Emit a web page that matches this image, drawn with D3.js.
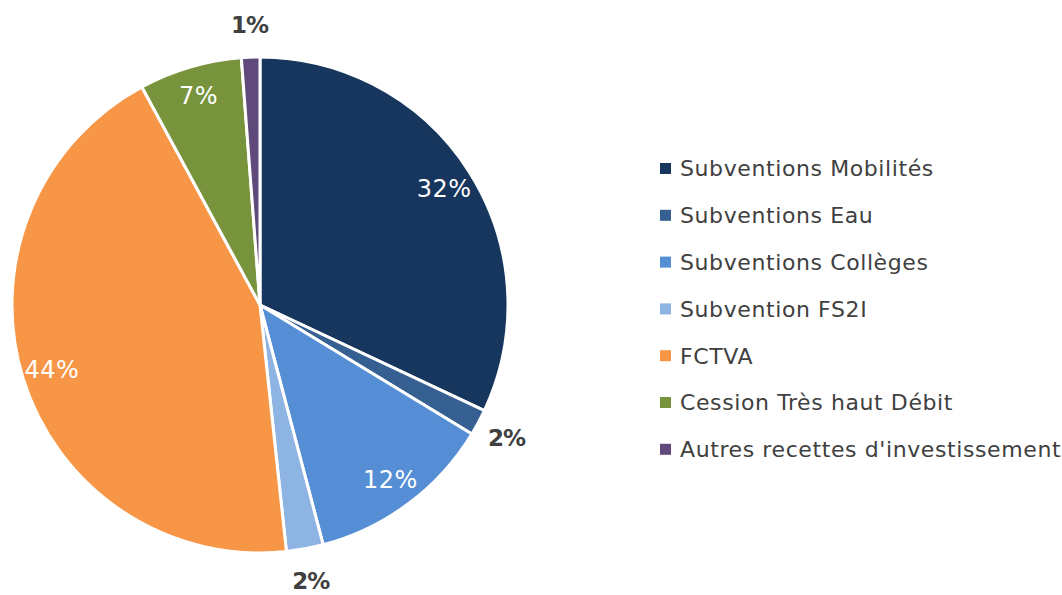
<!DOCTYPE html>
<html>
<head>
<meta charset="utf-8">
<script src="https://cdn.jsdelivr.net/npm/d3@7"></script>
<style>
  body { margin: 0; background: #fff; }
  svg { display: block; }
</style>
</head>
<body>
<div id="chart"></div>
<script>
var categories = [
  "Subventions Mobilités",
  "Subventions Eau",
  "Subventions Collèges",
  "Subvention FS2I",
  "FCTVA",
  "Cession Très haut Débit",
  "Autres recettes d'investissement"
];
var values = [32.0, 1.7, 12.2, 2.4, 43.8, 6.7, 1.2];
var colors = ["#17365d", "#366092", "#558ed5", "#8eb4e3", "#f79646", "#77933c", "#604a7b"];
// small slices get their label outside the pie
var outside = [false, true, false, true, false, false, true];

var width = 1062, height = 595;
var cx = 260, cy = 305, radius = 248;

var svg = d3.select("#chart").append("svg")
  .attr("width", width)
  .attr("height", height);

var pie = d3.pie().sort(null).value(function(d){ return d; });
var arcs = pie(values);
var arc = d3.arc().innerRadius(0).outerRadius(radius);
var inLabel = d3.arc().innerRadius(218).outerRadius(218);
var outLabel = d3.arc().innerRadius(280).outerRadius(280);

var total = d3.sum(values);

var g = svg.append("g").attr("transform", "translate(" + cx + "," + cy + ")");

g.selectAll("path.slice")
  .data(arcs)
  .enter()
  .append("path")
  .classed("slice", true)
  .attr("d", arc)
  .attr("fill", function(d, i){ return colors[i]; })
  .attr("stroke", "#fff")
  .attr("stroke-width", 3)
  .attr("stroke-linejoin", "round");

g.selectAll("text.pct")
  .data(arcs)
  .enter()
  .append("text")
  .classed("pct", true)
  .attr("transform", function(d, i){
    var c = outside[i] ? outLabel.centroid(d) : inLabel.centroid(d);
    return "translate(" + c[0] + "," + c[1] + ")";
  })
  .attr("text-anchor", "middle")
  .attr("dy", "0.36em")
  .style("font-family", "'DejaVu Sans', Verdana, sans-serif")
  .style("font-size", function(d, i){ return outside[i] ? "23px" : "24px"; })
  .style("letter-spacing", function(d, i){ return outside[i] ? "-1px" : "0.5px"; })
  .style("font-weight", function(d, i){ return outside[i] ? "bold" : "normal"; })
  .style("fill", function(d, i){ return outside[i] ? "#404040" : "#fff"; })
  .text(function(d){ return Math.round(d.value / total * 100) + "%"; });

var legend = svg.append("g").attr("transform", "translate(660,168.5)");
var rows = legend.selectAll("g.row")
  .data(categories)
  .enter()
  .append("g")
  .classed("row", true)
  .attr("transform", function(d, i){ return "translate(0," + (i * 46.8) + ")"; });

rows.append("rect")
  .attr("x", 0)
  .attr("y", -5.5)
  .attr("width", 11)
  .attr("height", 11)
  .attr("fill", function(d, i){ return colors[i]; });

rows.append("text")
  .attr("x", 20)
  .attr("dy", "0.36em")
  .style("font-family", "'DejaVu Sans', Verdana, sans-serif")
  .style("font-size", "22px")
  .style("letter-spacing", "0.6px")
  .style("fill", "#404040")
  .text(function(d){ return d; });
</script>
</body>
</html>
